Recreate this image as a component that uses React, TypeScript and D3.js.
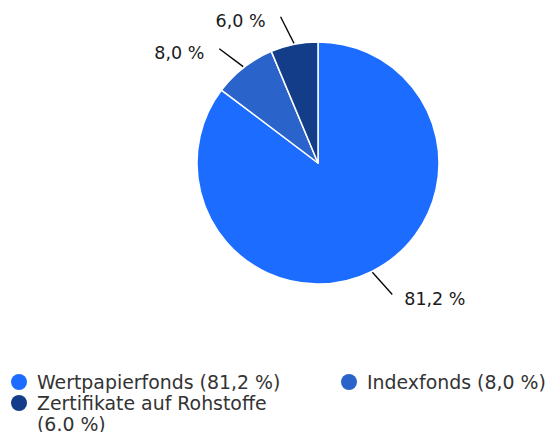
import React, { useEffect, useRef } from "react";
import * as d3 from "d3";

// categories and values
const categories = ["Wertpapierfonds", "Indexfonds", "Zertifikate auf Rohstoffe"];
const values = [81.2, 8.0, 6.0];
const sliceLabels = ["81,2 %", "8,0 %", "6,0 %"];
const legendLines = [["Wertpapierfonds (81,2 %)"], ["Indexfonds (8,0 %)"], ["Zertifikate auf Rohstoffe", "(6.0 %)"]];
const colors = ["#1c6dff", "#2a63c9", "#133d88"];

const FONT = "'DejaVu Sans', sans-serif";

const App: React.FC = () => {
  const ref = useRef<HTMLDivElement>(null);

  useEffect(() => {
    const container = ref.current;
    if (!container) return;
    const width = 548;
    const height = 432;
    const cx = 318;
    const cy = 163;
    const r = 121;

    const root = d3.select(container);
    root.selectAll("*").remove();

    const svg = root
      .append("svg")
      .attr("width", width)
      .attr("height", height)
      .style("position", "absolute")
      .style("left", 0)
      .style("top", 0)
      .style("background", "#fff");

    const data = categories.map((c, i) => ({ name: c, value: values[i], label: sliceLabels[i], color: colors[i] }));

    const pie = d3
      .pie<(typeof data)[number]>()
      .value((d) => d.value)
      .sort(null);
    const arcs = pie(data);

    const arc = d3.arc<d3.PieArcDatum<(typeof data)[number]>>().innerRadius(0).outerRadius(r);

    const g = svg.append("g").attr("transform", `translate(${cx},${cy})`);

    g.selectAll("path")
      .data(arcs)
      .enter()
      .append("path")
      .attr("d", arc)
      .attr("fill", (d) => d.data.color)
      .attr("stroke", "#fff")
      .attr("stroke-width", 1.5)
      .attr("stroke-linejoin", "round");

    // connectors and data labels (connector end leans slightly counter-clockwise)
    const lean = (3 * Math.PI) / 180;
    arcs.forEach((d) => {
      const a = (d.startAngle + d.endAngle) / 2;
      const x1 = Math.sin(a) * (r + 1);
      const y1 = -Math.cos(a) * (r + 1);
      const x2 = Math.sin(a - lean) * (r + 30);
      const y2 = -Math.cos(a - lean) * (r + 30);
      g.append("line")
        .attr("x1", x1)
        .attr("y1", y1)
        .attr("x2", x2)
        .attr("y2", y2)
        .attr("stroke", "#000")
        .attr("stroke-width", 1.3);
      const right = Math.sin(a) > 0;
      g.append("text")
        .attr("x", x2 + (right ? 12 : -15))
        .attr("y", y2 + 4)
        .attr("dy", "0.36em")
        .attr("text-anchor", right ? "start" : "end")
        .style("font-family", FONT)
        .style("font-size", "17.5px")
        .style("fill", "#1a1a1a")
        .text(d.data.label);
    });

    // legend
    const legend = svg.append("g").style("font-family", FONT).style("font-size", "18.9px");
    const items = [
      { x: 19, y: 382, i: 0 },
      { x: 349, y: 382, i: 1 },
      { x: 19, y: 403, i: 2 },
    ];
    items.forEach((it) => {
      legend.append("circle").attr("cx", it.x).attr("cy", it.y).attr("r", 8).attr("fill", colors[it.i]);
      const t = legend.append("text").attr("x", it.x + 18).attr("y", it.y).style("fill", "#333");
      legendLines[it.i].forEach((l, k) => {
        t.append("tspan")
          .attr("x", it.x + 18)
          .attr("y", it.y + k * 21)
          .attr("dy", "0.36em")
          .text(l);
      });
    });
  }, []);

  return <div ref={ref}></div>;
};

export default App;
